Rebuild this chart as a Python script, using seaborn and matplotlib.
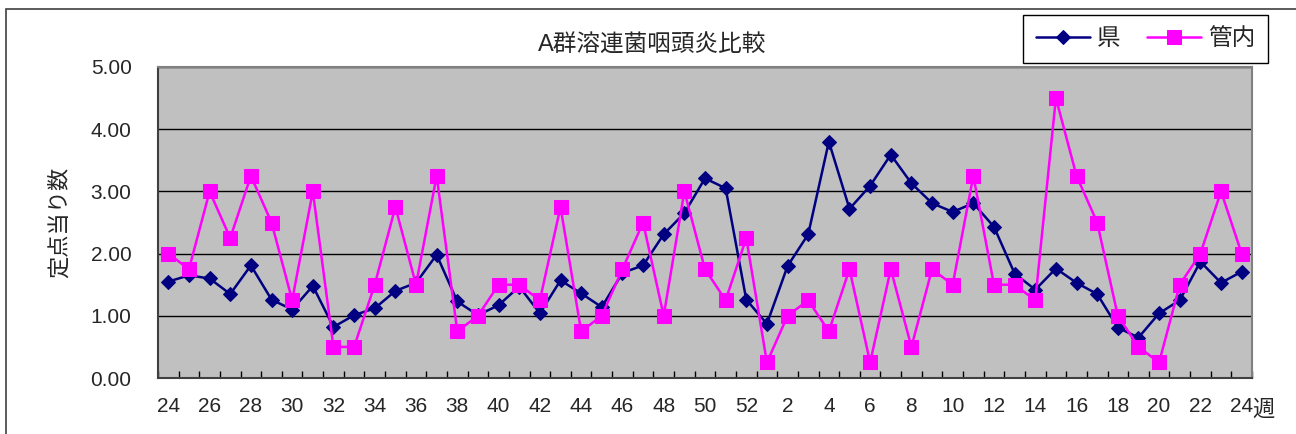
import numpy as np
import pandas as pd
import seaborn as sns
from matplotlib import pyplot as plt
from matplotlib.patches import Rectangle

# 週 (24週〜52週, 1週〜24週)
weeks = list(range(24, 53)) + list(range(1, 25))

# 県 (定点当り数)
ken = [1.55, 1.65, 1.60, 1.35, 1.81, 1.26, 1.10, 1.48, 0.82, 1.01,
       1.12, 1.40, 1.53, 1.98, 1.23, 1.01, 1.17, 1.47, 1.04, 1.57,
       1.36, 1.14, 1.69, 1.81, 2.31, 2.65, 3.21, 3.05, 1.26, 0.87,
       1.80, 2.31, 3.80, 2.72, 3.09, 3.59, 3.13, 2.81, 2.67, 2.81,
       2.43, 1.68, 1.42, 1.76, 1.53, 1.35, 0.81, 0.65, 1.04, 1.25,
       1.87, 1.53, 1.71]

# 管内 (定点当り数)
kannai = [2.00, 1.75, 3.00, 2.25, 3.25, 2.50, 1.25, 3.00, 0.50, 0.50,
          1.50, 2.75, 1.50, 3.25, 0.75, 1.00, 1.50, 1.50, 1.25, 2.75,
          0.75, 1.00, 1.75, 2.50, 1.00, 3.00, 1.75, 1.25, 2.25, 0.25,
          1.00, 1.25, 0.75, 1.75, 0.25, 1.75, 0.50, 1.75, 1.50, 3.25,
          1.50, 1.50, 1.25, 4.50, 3.25, 2.50, 1.00, 0.50, 0.25, 1.50,
          2.00, 3.00, 2.00]

df = pd.DataFrame({'pos': np.arange(len(weeks)), 'week': weeks,
                   'ken': ken, 'kannai': kannai})

sns.set_style('white')
plt.rcParams['font.family'] = ['Liberation Sans', 'Noto Sans CJK JP', 'DejaVu Sans']

fig = plt.figure(figsize=(12.96, 4.34), dpi=100)
ax = fig.add_axes([158 / 1296, 56 / 434, 1094 / 1296, 311 / 434])

# outer chart frame (cut off on the right and bottom)
fig.patches.append(Rectangle((5.5 / 1296, -0.2), 1.2, 1.2 - 8.5 / 434,
                             transform=fig.transFigure, fill=False,
                             edgecolor='#404040', lw=1.2, clip_on=False))

ax.set_facecolor('#C0C0C0')
ax.set_axisbelow(True)
ax.yaxis.grid(True, color='black', lw=1.0)

sns.lineplot(data=df, x='pos', y='ken', ax=ax, color='#000080', lw=1.8,
             marker='D', markersize=7.5, markeredgecolor='#000080',
             label='県', zorder=3)
sns.lineplot(data=df, x='pos', y='kannai', ax=ax, color='#FF00FF', lw=1.8,
             marker='s', markersize=10.5, markeredgecolor='#FF00FF',
             label='管内', zorder=4)

ax.set_xlim(-0.5, len(weeks) - 0.5)
ax.set_ylim(0, 5)
ax.set_yticks(np.arange(0, 5.01, 1))
ax.set_yticklabels([f'{v:.2f}' for v in np.arange(0, 5.01, 1)])
ax.set_xticks(df['pos'][::2])
ax.set_xticklabels(df['week'][::2])
ax.set_xticks(np.arange(-0.5, len(weeks), 1), minor=True)
ax.tick_params(axis='x', which='major', length=0, pad=14, labelsize=15)
ax.tick_params(axis='x', which='minor', length=5, direction='in',
               color='black', width=1, bottom=True)
ax.tick_params(axis='y', length=0, pad=19, labelsize=15)
ax.set_xlabel('')
ax.set_ylabel('定点当り数', fontsize=16, labelpad=14)

for s in ax.spines.values():
    s.set_color('#808080')
    s.set_linewidth(1.5)
ax.spines['left'].set_color('#404040')
ax.spines['bottom'].set_color('#404040')

fig.text(652 / 1296, 1 - 46 / 434, 'A群溶連菌咽頭炎比較', ha='center',
         va='center', fontsize=17)
fig.text(1263 / 1296, 1 - 410 / 434, '週', ha='center', va='center',
         fontsize=16)

handles, labels = ax.get_legend_handles_labels()
ax.legend_.remove()
leg = fig.legend(handles, labels, loc='center',
                 bbox_to_anchor=(1145.5 / 1296, 1 - 39 / 434), ncol=2,
                 fontsize=17, frameon=True, fancybox=False, edgecolor='black',
                 framealpha=1, handlelength=2.3, handletextpad=0.3,
                 columnspacing=1.1, borderpad=0.55, borderaxespad=0)
leg.get_frame().set_linewidth(1.0)

fig.savefig('out.png', dpi=100)
